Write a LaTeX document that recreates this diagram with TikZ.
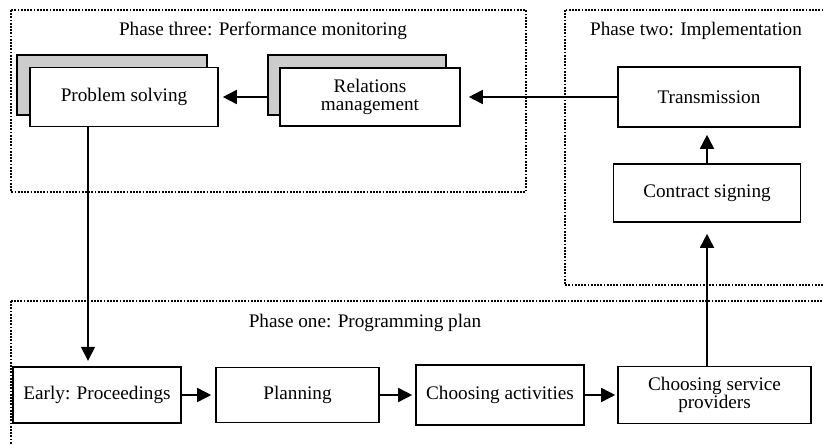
\documentclass[tikz,border=0pt]{standalone}
\usepackage{fontspec}
\setmainfont{Liberation Serif}
\usetikzlibrary{arrows.meta}
\usetikzlibrary{positioning}
\usetikzlibrary{calc}

\begin{document}
\begin{tikzpicture}
  [x=0.5pt, y=-0.5pt,
   every node/.style = {font=\fontsize{9.6pt}{9.2pt}\selectfont, align=center},
   box/.style = {draw, line width=0.8pt, fill=white, inner sep=0pt},
   shadowbox/.style = {draw, line width=0.8pt, fill=gray!40, inner sep=0pt},
   phase/.style = {line width=0.9pt, dash pattern=on 0.9pt off 0.7pt},
   arr/.style = {line width=0.8pt, -{Triangle[length=7pt, width=7pt]}, shorten >=2pt}]
  \useasboundingbox (0,0) rectangle (823,444);
  \clip (0,0) rectangle (823,444);

  % phases
  \draw [phase] (11,10) rectangle (526,192);
  \draw [phase] (565,10) rectangle (840,285);
  \draw [phase] (11,301) rectangle (840,460);
  \node (p3) at (263,31) {Phase three: Performance monitoring};
  \node (p2) at (696,31) {Phase two: Implementation};
  \node (p1) at (365,323) {Phase one: Programming plan};

  % phase three
  \node [shadowbox, minimum width=95pt, minimum height=30pt] (pss) at (112,85) {};
  \node [box, minimum width=94pt, minimum height=29.5pt] (ps) at (124,97) {Problem solving};
  \node [shadowbox, minimum width=89pt, minimum height=30pt] (rms) at (357,85) {};
  \node [box, minimum width=90pt, minimum height=29pt] (rm) at (370,97) {Relations\\management};

  % phase two
  \node [box, minimum width=91pt, minimum height=30pt] (tr) at (709,97) {Transmission};
  \node [box, minimum width=93.5pt, minimum height=29pt] (cs) at (707,193) {Contract signing};

  % phase one
  \node [box, line width=1.2pt, minimum width=84pt, minimum height=28pt] (ep) at (97,395) {Early: Proceedings};
  \node [box, minimum width=81.5pt, minimum height=27.5pt] (pl) at (297.5,395) {Planning};
  \node [box, minimum width=84pt, minimum height=30pt] (ca) at (500,395) {Choosing activities};
  \node [box, minimum width=96.5pt, minimum height=28.5pt] (csp) at (714.5,395) {Choosing service\\providers};

  \draw [arr] (ep) -- (pl);
  \draw [arr, shorten >=1.5pt] (pl) -- (ca);
  \draw [arr, shorten >=1pt] (ca) -- (csp);
  \draw [arr, shorten >=5.5pt] (cs |- csp.north) -- (cs);
  \draw [arr, shorten >=3.5pt] (cs) -- (cs |- tr.south);
  \draw [arr, shorten >=4pt] (tr) -- (rm);
  \draw [arr] (rm -| rms.west) -- (ps);
  \draw [arr, shorten >=2.5pt] ([xshift=-18pt]ps.south) -- ([xshift=-18pt]ps.south |- ep.north);
\end{tikzpicture}
\end{document}
